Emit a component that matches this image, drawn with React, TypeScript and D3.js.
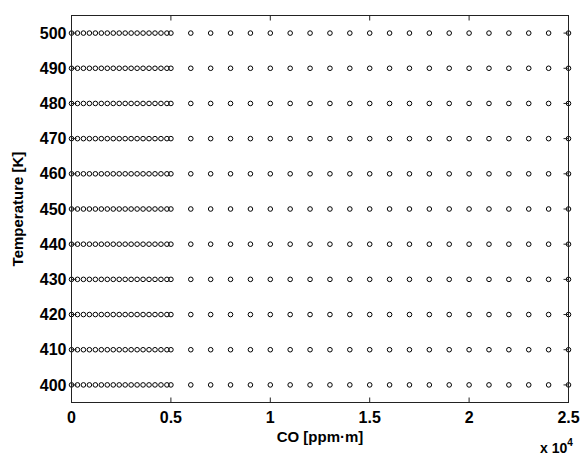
import React from "react";
import * as d3 from "d3";

const temperatures = [400, 410, 420, 430, 440, 450, 460, 470, 480, 490, 500];
const denseCO = [0, 300, 600, 900, 1200, 1500, 1800, 2100, 2400, 2700, 3000, 3300, 3600, 3900, 4200, 4500, 4800, 5000];
const sparseCO = [6000, 7000, 8000, 9000, 10000, 11000, 12000, 13000, 14000, 15000, 16000, 17000, 18000, 19000, 20000, 21000, 22000, 23000, 24000, 25000];
const xTicks = [0, 5000, 10000, 15000, 20000, 25000];
const xTickLabels = ["0", "0.5", "1", "1.5", "2", "2.5"];
const yTicks = [400, 410, 420, 430, 440, 450, 460, 470, 480, 490, 500];

export default function App() {
  const W = 583, H = 458;
  const left = 71.5, right = 568.5, top = 15.5, bottom = 402.5;
  const x = d3.scaleLinear().domain([0, 25000]).range([left, right]);
  const y = d3.scaleLinear().domain([395, 505]).range([bottom, top]);
  const coValues = [...denseCO, ...sparseCO];
  const font = "'Liberation Sans', Arial, sans-serif";
  const tl = 5;
  return (
    <svg width={W} height={H} style={{ position: "absolute", left: 0, top: 0, background: "#fff" }}>
      <rect x={0} y={0} width={W} height={H} fill="#fff" />
      {temperatures.map((t) =>
        coValues.map((c, i) => (
          <circle key={t + "-" + i} cx={x(c)} cy={y(t)} r={2.3} fill="none" stroke="#000" strokeWidth={1} />
        ))
      )}
      <rect x={left} y={top} width={right - left} height={bottom - top} fill="none" stroke="#222" strokeWidth={1} />
      {xTicks.map((v, i) => (
        <g key={"xt" + i}>
          <line x1={x(v)} x2={x(v)} y1={bottom} y2={bottom - tl} stroke="#222" />
          <line x1={x(v)} x2={x(v)} y1={top} y2={top + tl} stroke="#222" />
          <text x={x(v)} y={bottom + 20} textAnchor="middle" fontFamily={font} fontSize={16} fontWeight="bold">
            {xTickLabels[i]}
          </text>
        </g>
      ))}
      {yTicks.map((v, i) => (
        <g key={"yt" + i}>
          <line x1={left} x2={left + tl} y1={y(v)} y2={y(v)} stroke="#222" />
          <line x1={right} x2={right - tl} y1={y(v)} y2={y(v)} stroke="#222" />
          <text x={left - 5} y={y(v)} dy="0.35em" textAnchor="end" fontFamily={font} fontSize={16} fontWeight="bold">
            {v}
          </text>
        </g>
      ))}
      <text x={(left + right) / 2} y={442} textAnchor="middle" fontFamily={font} fontSize={15} fontWeight="bold">
        CO [ppm·m]
      </text>
      <text x={540} y={453} fontFamily={font} fontSize={14} fontWeight="bold">
        x 10<tspan dy={-7} fontSize={10}>4</tspan>
      </text>
      <text transform={`translate(23, ${(top + bottom) / 2}) rotate(-90)`} textAnchor="middle" fontFamily={font} fontSize={15} fontWeight="bold">
        Temperature [K]
      </text>
    </svg>
  );
}
